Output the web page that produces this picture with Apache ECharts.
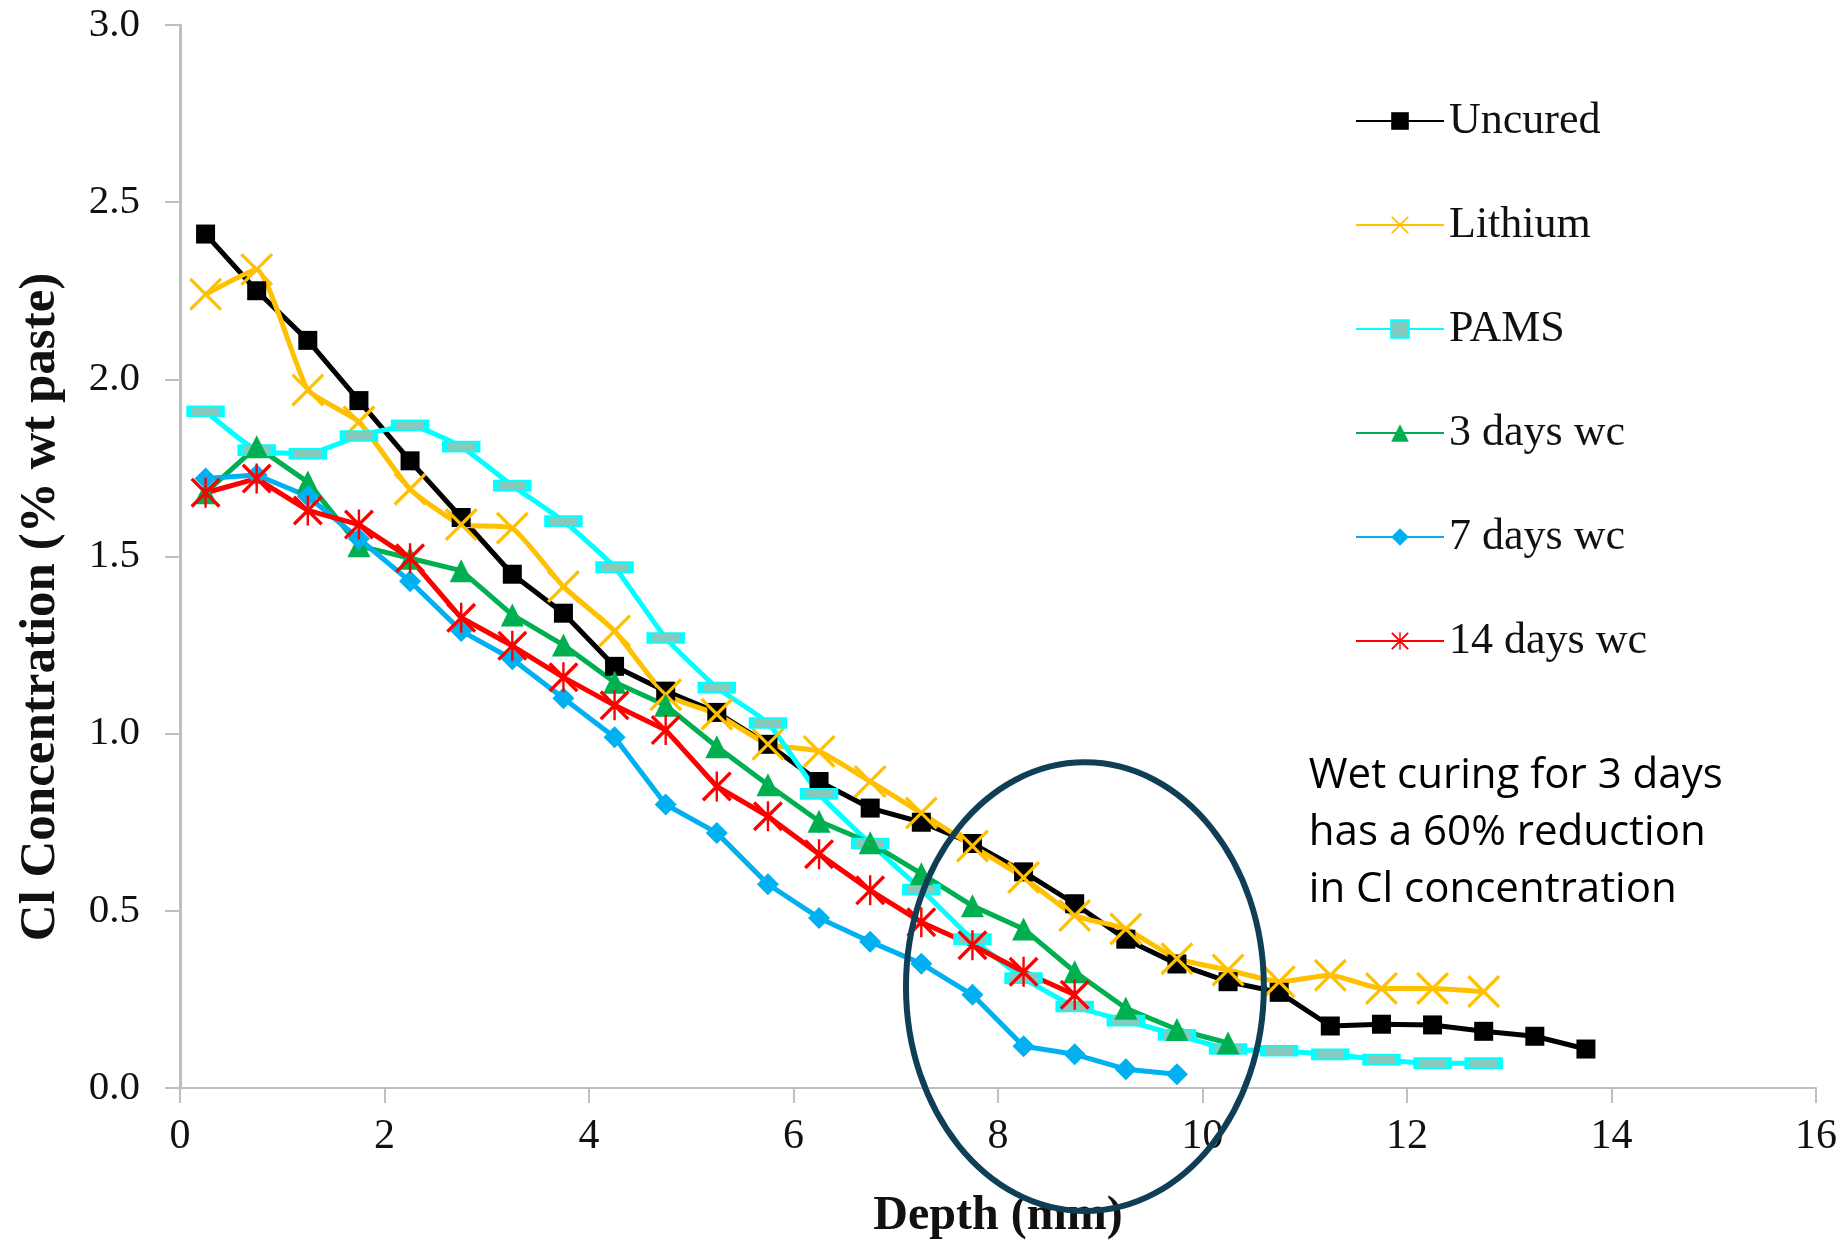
<!DOCTYPE html>
<html>
<head>
<meta charset="utf-8">
<style>
html,body{margin:0;padding:0;background:#fff;}
#chart{width:1847px;height:1246px;}
</style>
<script src="https://cdn.jsdelivr.net/npm/echarts@6/dist/echarts.min.js"></script>
</head>
<body>
<div id="chart"></div>
<script>
// ---- data ----
const depthMM = [0.25,0.75,1.25,1.75,2.25,2.75,3.25,3.75,4.25,4.75,5.25,5.75,6.25,6.75,7.25,7.75,8.25,8.75,9.25,9.75,10.25,10.75,11.25,11.75,12.25,12.75,13.25,13.75];
const uncured = [2.41,2.25,2.11,1.94,1.77,1.61,1.45,1.34,1.19,1.12,1.06,0.97,0.865,0.79,0.75,0.69,0.61,0.52,0.42,0.35,0.30,0.27,0.175,0.18,0.178,0.16,0.146,0.11];
const lithium = [2.24,2.31,1.97,1.88,1.69,1.59,1.58,1.415,1.29,1.11,1.055,0.97,0.95,0.865,0.776,0.683,0.594,0.487,0.449,0.365,0.333,0.30,0.318,0.281,0.281,0.272];
const pams = [1.91,1.80,1.79,1.84,1.87,1.81,1.70,1.60,1.47,1.27,1.13,1.03,0.83,0.69,0.56,0.42,0.31,0.23,0.19,0.15,0.11,0.105,0.095,0.08,0.07,0.07];
const days3 = [1.68,1.81,1.71,1.53,1.495,1.46,1.335,1.25,1.145,1.08,0.963,0.856,0.753,0.692,0.605,0.514,0.449,0.328,0.225,0.165,0.127];
const days7 = [1.72,1.73,1.67,1.55,1.43,1.29,1.21,1.10,0.99,0.80,0.72,0.575,0.48,0.413,0.351,0.263,0.118,0.095,0.053,0.039];
const days14 = [1.68,1.72,1.63,1.59,1.495,1.327,1.248,1.159,1.08,1.01,0.851,0.767,0.66,0.558,0.468,0.403,0.328,0.263];
const seriesNames = ['Uncured','Lithium','PAMS','3 days wc','7 days wc','14 days wc'];
const xTitle = 'Depth (mm)';
const yTitle = 'Cl Concentration (% wt paste)';
const noteLines = ['Wet curing for 3 days','has a 60% reduction','in Cl concentration'];

function pairs(vals){ return vals.map((v,i)=>[depthMM[i], v]); }

const X_PATH = 'path://M0 7 L7 0 L100 93 L93 100 Z M93 0 L100 7 L7 100 L0 93 Z';
const STAR_PATH = 'path://M0 8 L8 0 L100 92 L92 100 Z M92 0 L100 8 L8 100 L0 92 Z M46 0 L54 0 L54 100 L46 100 Z';

const serif = "'Liberation Serif', 'DejaVu Serif', serif";

const chart = echarts.init(document.getElementById('chart'), null, {renderer:'canvas'});

function mk(name, data, color, symbol, size, extra){
  return Object.assign({
    name: name, type:'line', data: pairs(data),
    symbol: symbol, symbolSize: size,
    lineStyle:{color: color, width: 5},
    itemStyle:{color: color},
    emphasis:{disabled:true},
    animation:false
  }, extra||{});
}

const option = {
  backgroundColor:'#ffffff',
  animation:false,
  grid:{left:180, right:31, top:25, bottom:149, containLabel:false},
  legend:{
    orient:'vertical', left:1350, top:93,
    itemWidth:88, itemHeight:22, itemGap:58,
    textStyle:{fontFamily:serif, fontSize:44, color:'#111', lineHeight:46},
    data: seriesNames
  },
  xAxis:{
    type:'value', min:0, max:16, interval:2,
    name: xTitle, nameLocation:'middle', nameGap:105,
    nameTextStyle:{fontFamily:serif, fontSize:48, fontWeight:'bold', color:'#111'},
    axisLine:{show:true, lineStyle:{color:'#bfbfbf', width:2}},
    axisTick:{show:true, length:15, lineStyle:{color:'#bfbfbf', width:2}},
    axisLabel:{fontFamily:serif, fontSize:42, color:'#111', margin:28},
    splitLine:{show:false}
  },
  yAxis:{
    type:'value', min:0, max:3, interval:0.5,
    axisLine:{show:true, lineStyle:{color:'#bfbfbf', width:3}},
    axisTick:{show:true, length:15, lineStyle:{color:'#bfbfbf', width:2}},
    axisLabel:{fontFamily:serif, fontSize:41, color:'#111', margin:40,
      formatter:v=>v.toFixed(1)},
    splitLine:{show:false}
  },
  series:[
    mk(seriesNames[0], uncured, '#000000', 'rect', 19),
    mk(seriesNames[1], lithium, '#FFC000', X_PATH, 33, {smooth:0.15}),
    mk(seriesNames[2], pams, '#00FFFF', 'rect', [33,10], {smooth:0.15,
      itemStyle:{color:'#86c9bd', borderColor:'#00FFFF', borderWidth:3}}),
    mk(seriesNames[3], days3, '#00B050', 'triangle', 23),
    mk(seriesNames[4], days7, '#00B0F0', 'diamond', 22),
    mk(seriesNames[5], days14, '#FF0000', STAR_PATH, 30)
  ]
};
chart.setOption(option);

// annotations positioned through the axes
const c = chart.convertToPixel({gridIndex:0}, [8.85, 0.286]);
const ex = chart.convertToPixel({gridIndex:0}, [8.85 + 1.75, 0.286]);
const ey = chart.convertToPixel({gridIndex:0}, [8.85, 0.286 + 0.633]);
const nt = chart.convertToPixel({gridIndex:0}, [11.04, 0.96]);
chart.setOption({
  graphic:[
    {type:'ellipse', z:100, silent:true,
     shape:{cx:c[0], cy:c[1], rx:ex[0]-c[0], ry:c[1]-ey[1]},
     style:{fill:'none', stroke:'#0f3f57', lineWidth:6}},
    {type:'text', z:100, silent:true, x:nt[0], y:nt[1],
     style:{text:noteLines.join('\n'), fontFamily:"'Open Sans', sans-serif", fontSize:42,
       lineHeight:57, fill:'#000', align:'left', verticalAlign:'top'}},
    {type:'text', z:100, silent:true, x:41, y:607, rotation:Math.PI/2,
     style:{text:yTitle, fontFamily:serif, fontSize:51, fontWeight:'bold',
       fill:'#111', align:'center', verticalAlign:'middle'}}
  ]
});
</script>
</body>
</html>
